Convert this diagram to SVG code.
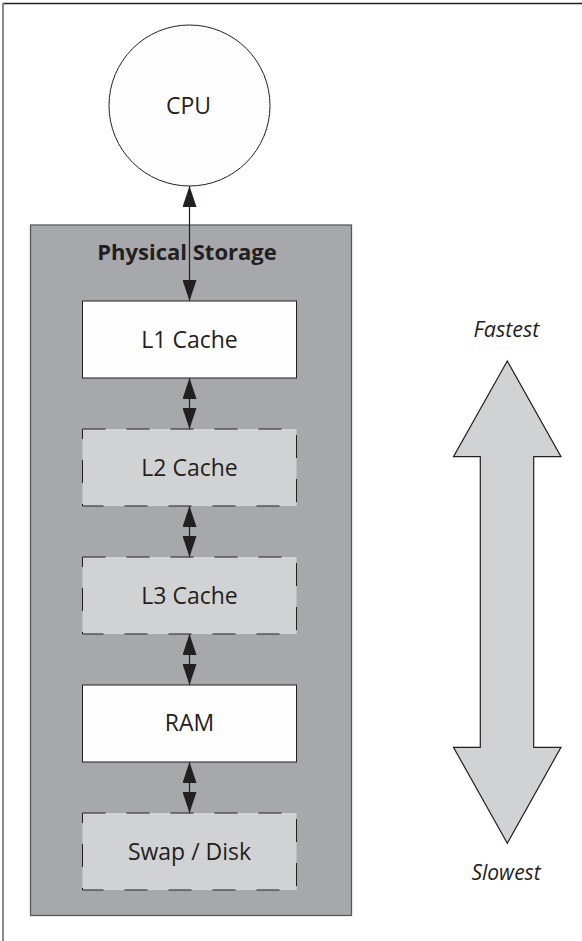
<svg xmlns="http://www.w3.org/2000/svg" width="582" height="941" viewBox="0 0 582 941">
<style>
text{font-family:"Open Sans","Noto Sans","Liberation Sans",sans-serif;fill:#231f20;text-anchor:middle}
.lbl{font-size:23px}
.solid{fill:#fefefe;stroke:#231f20;stroke-width:1}
.dash{fill:#d1d2d4;stroke:#231f20;stroke-width:1;stroke-dasharray:23 21}
.conn{stroke:#231f20;stroke-width:1.2;fill:none;marker-start:url(#ah);marker-end:url(#ah)}
</style>
<defs>
<marker id="ah" markerUnits="userSpaceOnUse" markerWidth="21" markerHeight="14" refX="21" refY="7" orient="auto-start-reverse" viewBox="0 0 21 14">
<path d="M0,0 L21,7 L0,14 z" fill="#231f20"/>
</marker>
</defs>
<rect width="582" height="941" fill="#ffffff"/>
<g id="frame">
<line x1="3" y1="3.5" x2="582" y2="3.5" stroke="#231f20" stroke-width="1.5"/>
<line x1="3" y1="3" x2="3" y2="941" stroke="#8a8a8a" stroke-width="2"/>
</g>
<g id="physical-storage">
<rect x="30.5" y="225" width="321" height="690.5" fill="#a7a8ab" stroke="#58595b" stroke-width="1.3"/>
<text x="187" y="259.5" style="font-size:22px;font-weight:bold">Physical Storage</text>
</g>
<g id="cpu">
<circle cx="189.5" cy="105.5" r="80.5" fill="#fdfdfd" stroke="#231f20" stroke-width="1"/>
<text x="188.5" y="113.5" style="font-size:23px">CPU</text>
</g>
<g id="l1">
<rect class="solid" x="82.5" y="301" width="214" height="77"/>
<text class="lbl" x="189.5" y="347.5">L1 Cache</text>
</g>
<g id="l2">
<rect class="dash" x="82.5" y="429" width="214" height="77"/>
<text class="lbl" x="189.5" y="475.5">L2 Cache</text>
</g>
<g id="l3">
<rect class="dash" x="82.5" y="557" width="214" height="77"/>
<text class="lbl" x="189.5" y="603.5">L3 Cache</text>
</g>
<g id="ram">
<rect class="solid" x="82.5" y="685" width="214" height="77"/>
<text class="lbl" x="189.5" y="731">RAM</text>
</g>
<g id="swap">
<rect class="dash" x="82.5" y="813" width="214" height="77"/>
<text class="lbl" x="189.5" y="859.5">Swap / Disk</text>
</g>
<g id="connectors">
<line class="conn" x1="189.5" y1="186" x2="189.5" y2="301"/>
<line class="conn" x1="189.5" y1="378" x2="189.5" y2="429"/>
<line class="conn" x1="189.5" y1="506" x2="189.5" y2="557"/>
<line class="conn" x1="189.5" y1="634" x2="189.5" y2="685"/>
<line class="conn" x1="189.5" y1="762" x2="189.5" y2="813"/>
</g>
<g id="speed-arrow">
<path d="M507.3,361 L561,456.7 L533.7,456.7 L533.7,747.3 L561,747.3 L507.3,843.3 L453.5,747.3 L480.3,747.3 L480.3,456.7 L453.5,456.7 Z" fill="#d1d2d4" stroke="#231f20" stroke-width="1.2" stroke-linejoin="miter"/>
<text x="506.5" y="336.5" style="font-size:21.5px;font-style:italic">Fastest</text>
<text x="506" y="880" style="font-size:21px;font-style:italic">Slowest</text>
</g>
</svg>
